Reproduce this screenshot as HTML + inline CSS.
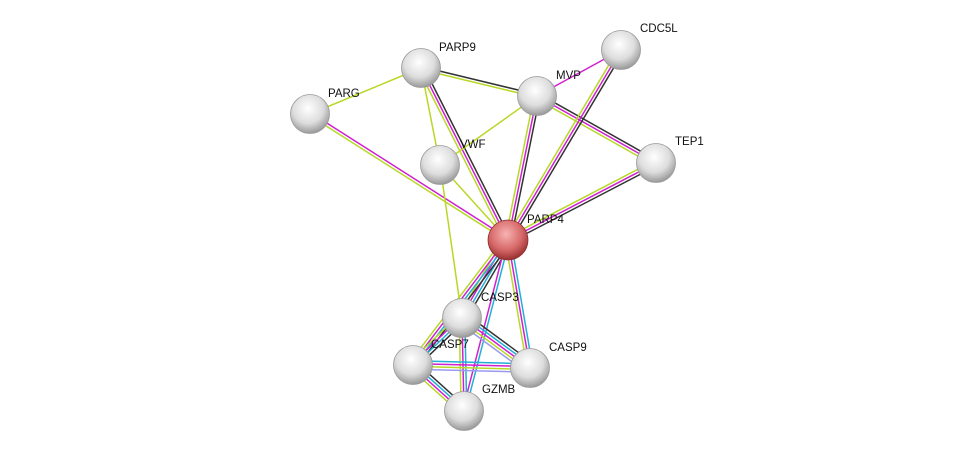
<!DOCTYPE html>
<html><head><meta charset="utf-8"><style>
html,body{margin:0;padding:0;background:#fff;width:975px;height:456px;overflow:hidden}
svg{display:block}
text{font-family:"Liberation Sans",sans-serif;font-size:11.5px;fill:#111}
</style></head><body>
<svg id="s" width="975" height="456" xmlns="http://www.w3.org/2000/svg">
<defs>
<radialGradient id="g" cx="45%" cy="35%" r="65%"><stop offset="0" stop-color="#fff"/><stop offset="0.6" stop-color="#ddd"/><stop offset="1" stop-color="#999"/></radialGradient>
<radialGradient id="r" cx="45%" cy="35%" r="65%"><stop offset="0" stop-color="#f7b3b3"/><stop offset="0.6" stop-color="#d86a6a"/><stop offset="1" stop-color="#9a3030"/></radialGradient>
</defs>
<g id="e"></g><g id="n"></g>
</svg>
<script>
var N={PARP9:[421,68],PARG:[310,114],MVP:[537,96],CDC5L:[621,50],TEP1:[656,163],VWF:[440,165],PARP4:[508,240],CASP3:[462,318],CASP7:[413,365],CASP9:[530,368],GZMB:[464,411]};
var C={k:"#333",m:"#d020d0",y:"#b8d828",c:"#20b0d8",l:"#9999ee"};
var E=[["PARP9","PARG","y"],["PARP9","MVP","ky"],["PARP9","PARP4","kmy"],["PARP9","VWF","y"],["PARG","PARP4","my"],["MVP","CDC5L","m"],["MVP","VWF","y"],["MVP","PARP4","kmy"],["MVP","TEP1","kmy"],["CDC5L","PARP4","kmy"],["TEP1","PARP4","kmy"],["VWF","PARP4","y"],["VWF","CASP3","y"],["PARP4","CASP3","kcmy"],["PARP4","CASP7","kcmy"],["PARP4","CASP9","cmy"],["PARP4","GZMB","cm"],["CASP3","CASP7","kcmy"],["CASP3","CASP9","kcmyl"],["CASP3","GZMB","cmy"],["CASP7","CASP9","cmyl"],["CASP7","GZMB","kcmy"]];
var ns="http://www.w3.org/2000/svg",eg=document.getElementById("e"),ng=document.getElementById("n");
E.forEach(function(e){var a=N[e[0]],b=N[e[1]],dx=b[0]-a[0],dy=b[1]-a[1],L=Math.hypot(dx,dy),px=-dy/L,py=dx/L,n=e[2].length;
for(var i=0;i<n;i++){var o=(i-(n-1)/2)*2.8;var l=document.createElementNS(ns,"line");
l.setAttribute("x1",a[0]+px*o);l.setAttribute("y1",a[1]+py*o);l.setAttribute("x2",b[0]+px*o);l.setAttribute("y2",b[1]+py*o);
l.setAttribute("stroke",C[e[2][i]]);l.setAttribute("stroke-width","1.5");eg.appendChild(l);}});
var LB={PARP9:[439,47],PARG:[328,93],MVP:[556,75],CDC5L:[640,28],TEP1:[675,141],VWF:[460,144],PARP4:[527,219],CASP3:[481,297],CASP7:[431,344],CASP9:[549,347],GZMB:[482,389]};
for(var k in N){var p=N[k];var c=document.createElementNS(ns,"circle");c.setAttribute("cx",p[0]);c.setAttribute("cy",p[1]);c.setAttribute("r",k=="PARP4"?20:19.5);
c.setAttribute("fill",k=="PARP4"?"url(#r)":"url(#g)");c.setAttribute("stroke",k=="PARP4"?"#8a3030":"#999");c.setAttribute("stroke-width","0.8");ng.appendChild(c);
var t=document.createElementNS(ns,"text");t.setAttribute("x",LB[k][0]);t.setAttribute("y",LB[k][1]+4);t.textContent=k;ng.appendChild(t);}
</script>
</body></html>
